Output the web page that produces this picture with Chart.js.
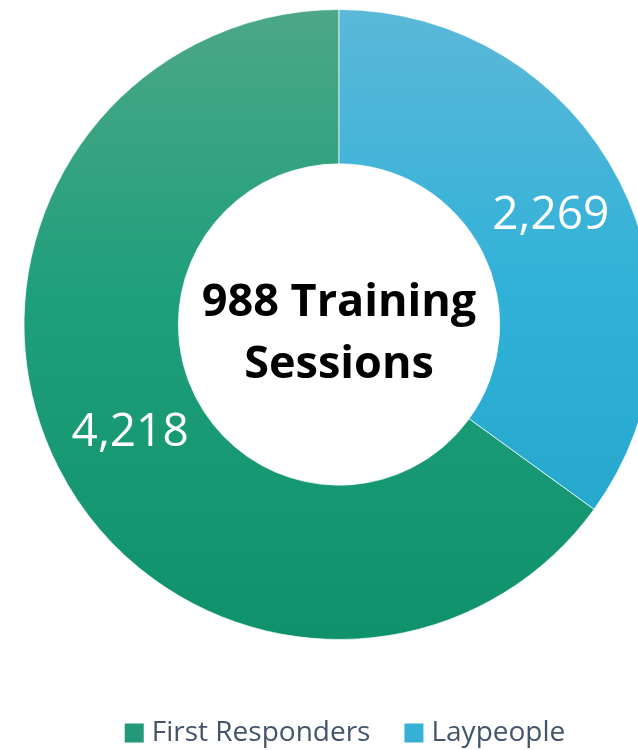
<!DOCTYPE html>
<html>
<head>
<meta charset="utf-8">
<script src="https://cdn.jsdelivr.net/npm/chart.js@4.4.1/dist/chart.umd.min.js"></script>
<style>
  html, body { margin: 0; padding: 0; width: 638px; height: 750px; overflow: hidden; background: #fff; }
  #my-chart { position: absolute; left: 0; top: -30px; }
</style>
</head>
<body>
<canvas id="my-chart" width="696" height="787"></canvas>
<script>
const labels = ['First Responders', 'Laypeople'];
const sessions = [4218, 2269];
const centerLines = ['988 Training', 'Sessions'];

// gradient stops top -> middle -> bottom
const greenStops = ['#4ca787', '#1f9f7b', '#0f926c'];
const blueStops = ['#5bb8d8', '#30b1d8', '#20a3c9'];
const legendColors = ['#23997a', '#37b0d5'];

const outerRadius = 315;
const total = sessions.reduce((a, b) => a + b, 0);

function makeGradient(chart, stops) {
   const area = chart.chartArea;
   if (!area) return stops[1];
   const cy = (area.top + area.bottom) / 2;
   const g = chart.ctx.createLinearGradient(0, cy - outerRadius, 0, cy + outerRadius);
   g.addColorStop(0, stops[0]);
   g.addColorStop(0.45, stops[1]);
   g.addColorStop(1, stops[2]);
   return g;
}

const valueLabels = {
   id: 'valueLabels',
   afterDatasetsDraw(chart) {
      const ctx = chart.ctx;
      const meta = chart.getDatasetMeta(0);
      ctx.save();
      ctx.font = '46px "Open Sans"';
      ctx.fillStyle = '#ffffff';
      ctx.textAlign = 'center';
      ctx.textBaseline = 'middle';
      meta.data.forEach((arc, i) => {
         const p = arc.tooltipPosition();
         ctx.fillText(sessions[i].toLocaleString('en-US'), p.x + (i === 0 ? 3 : 0), p.y);
      });
      ctx.restore();
   }
};

const centerText = {
   id: 'centerText',
   afterDraw(chart) {
      const ctx = chart.ctx;
      const arc = chart.getDatasetMeta(0).data[0];
      ctx.save();
      ctx.font = 'bold 45px "Open Sans"';
      ctx.fillStyle = '#000000';
      ctx.textAlign = 'center';
      ctx.textBaseline = 'alphabetic';
      centerLines.forEach((line, i) => {
         ctx.fillText(line, arc.x, arc.y - 9 + i * 62);
      });
      ctx.restore();
   }
};

const ctx = document.getElementById('my-chart').getContext('2d');

const chart = new Chart(ctx, {
   type: 'doughnut',
   data: {
      labels: labels,
      datasets: [
      {
         data: sessions,
         backgroundColor: (c) => makeGradient(c.chart, c.dataIndex === 0 ? greenStops : blueStops),
         borderColor: 'rgba(255,255,255,0.7)',
         borderWidth: 1
      }
      ]
   },
   options: {
      responsive: false,
      animation: false,
      radius: outerRadius,
      cutout: '51%',
      rotation: 360 * sessions[1] / total,
      layout: { padding: 0 },
      plugins: {
         tooltip: { enabled: false },
         // empty spacer on the right so the legend sits a bit right of the ring centre
         title: {
            display: true,
            text: '',
            position: 'right',
            fullSize: false,
            font: { size: 10 },
            padding: 3
         },
         legend: {
            position: 'bottom',
            labels: {
               font: { family: 'Open Sans', size: 28 },
               color: '#44546a',
               usePointStyle: true,
               pointStyle: 'rect',
               boxWidth: 7,
               boxHeight: 19,
               padding: 40,
               generateLabels: (chart) => {
                  const items = Chart.overrides.doughnut.plugins.legend.labels.generateLabels(chart);
                  return items.map((item, i) => Object.assign(item, {
                     fillStyle: legendColors[i],
                     lineWidth: 0,
                     pointStyle: 'rect'
                  }));
               }
            }
         }
      }
   },
   plugins: [valueLabels, centerText]
}); //closes chart = new Chart()
</script>
</body>
</html>
